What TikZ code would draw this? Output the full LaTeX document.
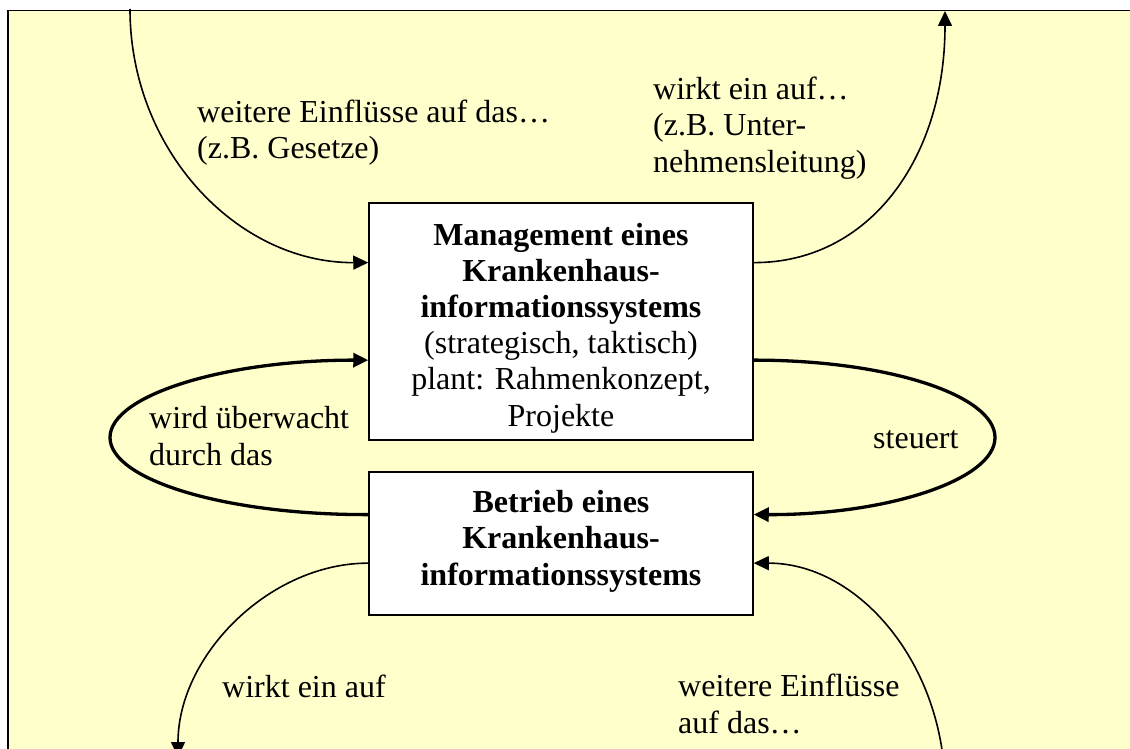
\documentclass[tikz,border=0pt]{standalone}
\usepackage{fontspec}
\setmainfont{Liberation Serif}
\usetikzlibrary{arrows.meta,calc}
\definecolor{paper}{HTML}{FFFFCC}
\begin{document}
\begin{tikzpicture}[x=1pt,y=-1pt,
  every node/.style={font=\fontsize{32}{36.2}\selectfont, inner sep=0pt},
  box/.style={draw=black, line width=1.5pt, fill=white},
  thinarrow/.style={line width=1.6pt, -{Triangle[length=15pt,width=14pt]}},
  thickarrow/.style={line width=3.3pt, -{Triangle[length=15pt,width=14pt]}},
  % multi-line nodes sit on the baseline of their last line
  lbl/.style={anchor=base west, align=left},
  boxtext/.style={anchor=base, align=center},
]
\useasboundingbox (0,0) rectangle (1130,749);
\clip (0,0) rectangle (1130,749);

% yellow sheet with its frame (runs off to the right and bottom)
\path[fill=paper, draw=black, line width=1.6pt] (8,10.5) rectangle (1150,770);

% the two boxes
\node[box, minimum width=384pt, minimum height=237pt] (mgmt) at (561,321.5) {};
\node[box, minimum width=384pt, minimum height=143pt] (betrieb) at (561,543.5) {};

\node[boxtext] (mgmttext) at (561,426)
  {\textbf{Management eines}\\\textbf{Krankenhaus-}\\\textbf{informationssystems}\\(strategisch, taktisch)\\plant: Rahmenkonzept,\\Projekte};
\node[boxtext, font=\fontsize{32}{36.2}\selectfont\bfseries] (betriebtext) at (561,585)
  {Betrieb eines\\Krankenhaus-\\informationssystems};

% attachment points on the box sides
\coordinate (mgmtL1) at ($(mgmt.north west)!0.253!(mgmt.south west)$);
\coordinate (mgmtL2) at ($(mgmt.north west)!0.662!(mgmt.south west)$);
\coordinate (mgmtR1) at ($(mgmt.north east)!0.253!(mgmt.south east)$);
\coordinate (mgmtR2) at ($(mgmt.north east)!0.662!(mgmt.south east)$);
\coordinate (betriebL1) at ($(betrieb.north west)!0.30!(betrieb.south west)$);
\coordinate (betriebL2) at ($(betrieb.north west)!0.636!(betrieb.south west)$);
\coordinate (betriebR1) at ($(betrieb.north east)!0.30!(betrieb.south east)$);
\coordinate (betriebR2) at ($(betrieb.north east)!0.636!(betrieb.south east)$);

% free ends and loop turning points
\coordinate (inTop) at (130,9);
\coordinate (outTop) at (945,11);
\coordinate (loopL) at (110,437.5);
\coordinate (loopR) at (995,437.5);
\coordinate (outBottom) at (178,757);
\coordinate (inBottom) at (945,790);

% outside influences and effects
\draw[thinarrow] (inTop) .. controls (130,150) and (237,263) .. (mgmtL1);
\draw[thinarrow] (mgmtR1) .. controls (868,263) and (945,160) .. (outTop);
\draw[thinarrow] (betriebL2) .. controls (270,563) and (178,655) .. (outBottom);
\draw[thinarrow] (inBottom) .. controls (945,665) and (859,563) .. (betriebR2);

% control loop between the boxes
\draw[thickarrow] (betriebL1) .. controls (226,515) and (110,480) .. (loopL)
                  .. controls (110,395) and (226,360) .. (mgmtL2);
\draw[thickarrow] (mgmtR2) .. controls (887,360) and (995,395) .. (loopR)
                  .. controls (995,480) and (887,515) .. (betriebR1);

% labels
\node[lbl] (lblTL) at (197,159) {weitere Einflüsse auf das…\\(z.B. Gesetze)};
\node[lbl] (lblTR) at (653,172) {wirkt ein auf…\\(z.B. Unter-\\nehmensleitung)};
\node[lbl] (lblL) at (149,465) {wird überwacht\\durch das};
\node[lbl] (lblR) at (873,448) {steuert};
\node[lbl] (lblBL) at (222,697) {wirkt ein auf};
\node[lbl] (lblBR) at (678,733) {weitere Einflüsse\\auf das…};
\end{tikzpicture}
\end{document}
